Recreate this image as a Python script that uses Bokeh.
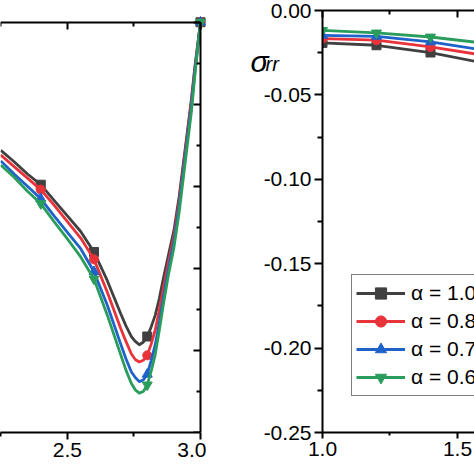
from bokeh.plotting import figure
from bokeh.layouts import row
from bokeh.models import (Range1d, LinearAxis, FixedTicker, NumeralTickFormatter,
                          Legend, LegendItem, Label)
from bokeh.embed import file_html
from bokeh.resources import INLINE

FONT = "Liberation Sans"

# ---------------- data ----------------
series_labels = ["α = 1.0", "α = 0.8", "α = 0.7", "α = 0.6"]
colors = ["#404040", "#e8333a", "#1f62c9", "#2a9d5c"]
marker_types = ["square", "circle", "triangle", "inverted_triangle"]
marker_sizes = [9, 9, 10, 10]

# left panel: smooth curves
left_curve_x = [2.25, 2.30, 2.35, 2.40, 2.45, 2.50, 2.55, 2.60, 2.65, 2.70, 2.72, 2.74,
                2.755, 2.77, 2.785, 2.80, 2.815, 2.83, 2.845, 2.86, 2.88, 2.90, 2.92,
                2.95, 2.965, 2.98, 3.00]
left_curve_a10 = [-0.156, -0.170, -0.185, -0.198, -0.217, -0.236, -0.255, -0.280, -0.315,
                  -0.355, -0.370, -0.383, -0.389, -0.393, -0.390, -0.383, -0.371, -0.357,
                  -0.337, -0.313, -0.283, -0.254, -0.212, -0.135, -0.096, -0.051, 0.000]
left_curve_a08 = [-0.162, -0.176, -0.190, -0.204, -0.223, -0.243, -0.263, -0.289, -0.329,
                  -0.373, -0.389, -0.404, -0.411, -0.414, -0.412, -0.406, -0.392, -0.375,
                  -0.351, -0.325, -0.292, -0.261, -0.218, -0.139, -0.100, -0.054, 0.000]
left_curve_a07 = [-0.169, -0.185, -0.200, -0.215, -0.236, -0.256, -0.276, -0.304, -0.345,
                  -0.392, -0.410, -0.426, -0.433, -0.438, -0.436, -0.429, -0.412, -0.393,
                  -0.367, -0.337, -0.300, -0.268, -0.224, -0.144, -0.105, -0.057, 0.000]
left_curve_a06 = [-0.174, -0.189, -0.206, -0.221, -0.243, -0.264, -0.286, -0.313, -0.357,
                  -0.405, -0.424, -0.440, -0.448, -0.452, -0.450, -0.442, -0.425, -0.405,
                  -0.376, -0.345, -0.307, -0.275, -0.231, -0.151, -0.111, -0.061, 0.000]

# left panel: marked data points
left_marker_x = [2.4, 2.6, 2.8, 3.0]
left_marker_a10 = [-0.198, -0.280, -0.383, 0.0]
left_marker_a08 = [-0.204, -0.289, -0.406, 0.0]
left_marker_a07 = [-0.215, -0.304, -0.429, 0.0]
left_marker_a06 = [-0.221, -0.313, -0.442, 0.0]

# right panel: sigma_rr
right_x = [1.0, 1.2, 1.4, 1.6]
right_a10 = [-0.0192, -0.0206, -0.0249, -0.0312]
right_a08 = [-0.0167, -0.0176, -0.0216, -0.0266]
right_a07 = [-0.0147, -0.0153, -0.0186, -0.0236]
right_a06 = [-0.0118, -0.0133, -0.0157, -0.0194]

# ticks
left_x_major = [2.5, 3.0]
left_x_minor = [2.25, 2.75]
left_y_major = [0.0, -0.1, -0.2, -0.3, -0.4, -0.5]
left_y_minor = [-0.05, -0.15, -0.25, -0.35, -0.45]
right_x_major = [1.0, 1.5]
right_x_minor = [1.25]
right_y_major = [0.0, -0.05, -0.10, -0.15, -0.20, -0.25]
right_y_minor = [-0.025, -0.075, -0.125, -0.175, -0.225]

left_curves = [left_curve_a10, left_curve_a08, left_curve_a07, left_curve_a06]
left_marks = [left_marker_a10, left_marker_a08, left_marker_a07, left_marker_a06]
right_series = [right_a10, right_a08, right_a07, right_a06]


def style_axis(ax, size="21px"):
    ax.axis_line_width = 2
    ax.major_tick_line_width = 2
    ax.minor_tick_line_width = 2
    ax.axis_line_color = "black"
    ax.major_tick_line_color = "black"
    ax.minor_tick_line_color = "black"
    ax.major_label_text_font = FONT
    ax.major_label_text_font_size = size
    ax.major_label_text_color = "black"


def spine_axis(ticks, minor, loc=None, bounds="auto"):
    ax = LinearAxis(ticker=FixedTicker(ticks=ticks, minor_ticks=minor),
                    fixed_location=loc, bounds=bounds)
    style_axis(ax)
    ax.major_label_overrides = {t: "" for t in ticks}
    ax.major_tick_in = 7
    ax.major_tick_out = 0
    ax.minor_tick_in = 4
    ax.minor_tick_out = 0
    ax.major_label_standoff = 0
    return ax


# ---------------- left panel ----------------
L_X0, L_X1 = 2.2488, 3.0
L_Y0, L_Y1 = -0.5, 0.0
p1 = figure(width=206, height=474, x_range=Range1d(L_X0, 3.0225), y_range=Range1d(L_Y0, 0.0143),
            y_axis_location=None, output_backend="svg", toolbar_location=None,
            min_border_left=0, min_border_right=0, min_border_top=0, min_border_bottom=42)
p1.grid.visible = False
p1.outline_line_color = None

for curve, marks, c, m, s in zip(left_curves, left_marks, colors, marker_types, marker_sizes):
    p1.line(left_curve_x, curve, line_color=c, line_width=2.8, line_join="round")
    p1.scatter(left_marker_x, marks, marker=m, size=s, fill_color=c, line_color=c)

bx = p1.xaxis[0]
bx.ticker = FixedTicker(ticks=left_x_major, minor_ticks=left_x_minor)
bx.formatter = NumeralTickFormatter(format="0.0")
bx.bounds = (L_X0, L_X1)
style_axis(bx)
bx.major_tick_out = 7
bx.major_tick_in = 0
bx.minor_tick_out = 4
bx.minor_tick_in = 0
bx.major_label_standoff = 3

p1.add_layout(spine_axis(left_y_major, left_y_minor, L_X1, (L_Y0, L_Y1)), "right")
p1.add_layout(spine_axis(left_x_major, left_x_minor, L_Y1, (L_X0, L_X1)), "above")

# ---------------- right panel ----------------
p2 = figure(width=268, height=474, x_range=Range1d(1.0, 1.563), y_range=Range1d(-0.25, 0.0),
            output_backend="svg", toolbar_location=None,
            min_border_left=116, min_border_right=0, min_border_top=10, min_border_bottom=38)
p2.grid.visible = False
p2.outline_line_color = None

items = []
for ys, c, m, s, lab in zip(right_series, colors, marker_types, marker_sizes, series_labels):
    lr = p2.line(right_x, ys, line_color=c, line_width=2.8, line_join="round")
    sr = p2.scatter(right_x, ys, marker=m, size=s, fill_color=c, line_color=c)
    items.append(LegendItem(label=lab, renderers=[lr, sr]))

xb = p2.xaxis[0]
xb.ticker = FixedTicker(ticks=right_x_major, minor_ticks=right_x_minor)
xb.formatter = NumeralTickFormatter(format="0.0")
style_axis(xb)
xb.major_tick_out = 6
xb.major_tick_in = 0
xb.minor_tick_out = 3
xb.minor_tick_in = 0
xb.major_label_standoff = 3

yl = p2.yaxis[0]
yl.ticker = FixedTicker(ticks=right_y_major, minor_ticks=right_y_minor)
yl.formatter = NumeralTickFormatter(format="0.00")
style_axis(yl)
yl.major_tick_out = 8
yl.major_tick_in = 0
yl.minor_tick_out = 5
yl.minor_tick_in = 0
yl.major_label_standoff = 3

p2.add_layout(spine_axis(right_x_major, right_x_minor), "above")

legend = Legend(items=items, location=(29, 36))
legend.label_text_font = FONT
legend.label_text_font_size = "21px"
legend.label_text_color = "black"
legend.glyph_width = 49
legend.glyph_height = 28
legend.label_height = 28
legend.label_standoff = 6
legend.spacing = 0
legend.padding = 4
legend.margin = 0
legend.border_line_color = "black"
legend.border_line_width = 1.5
legend.background_fill_color = "white"
legend.background_fill_alpha = 1.0
p2.add_layout(legend)

# y-axis title (sigma_rr) placed in the left border panel
p2.add_layout(Label(x=0.7333, y=-0.0305, text="σ", text_font=FONT, text_font_size="30px",
                    text_font_style="italic", text_color="black",
                    text_align="left", text_baseline="alphabetic"), "left")
p2.add_layout(Label(x=0.7889, y=-0.0318, text="rr", text_font=FONT, text_font_size="20px",
                    text_font_style="italic", text_color="black",
                    text_align="left", text_baseline="alphabetic"), "left")

layout = row(p1, p2, spacing=0)
open("out.html", "w").write(file_html(layout, INLINE))
